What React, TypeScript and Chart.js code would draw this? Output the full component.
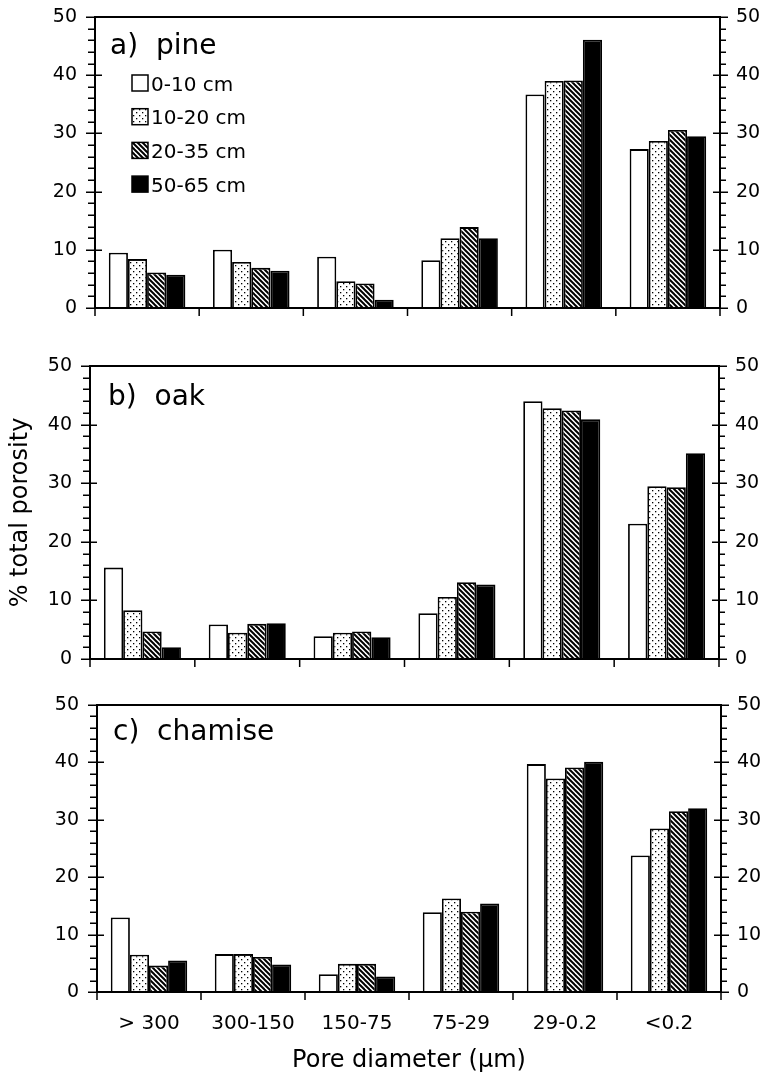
import React, { useEffect, useRef } from 'react';
import { Chart, registerables } from 'chart.js';

Chart.register(...registerables);

const FONT = "'DejaVu Sans', sans-serif";

// ---- data ----
const categories = ['> 300', '300-150', '150-75', '75-29', '29-0.2', '<0.2'];
const depthLabels = ['0-10 cm', '10-20 cm', '20-35 cm', '50-65 cm'];

const pine0_10 = [9.5, 10.0, 8.8, 8.2, 36.7, 27.3];
const pine10_20 = [8.4, 7.9, 4.6, 12.0, 39.0, 28.7];
const pine20_35 = [6.1, 6.9, 4.2, 13.9, 39.1, 30.6];
const pine50_65 = [5.7, 6.4, 1.4, 12.0, 46.1, 29.5];

const oak0_10 = [15.6, 5.9, 3.9, 7.8, 44.0, 23.1];
const oak10_20 = [8.3, 4.5, 4.5, 10.6, 42.8, 29.5];
const oak20_35 = [4.7, 6.0, 4.7, 13.1, 42.4, 29.3];
const oak50_65 = [2.0, 6.1, 3.7, 12.7, 40.9, 35.1];

const chamise0_10 = [13.0, 6.6, 3.1, 13.9, 39.7, 23.8];
const chamise10_20 = [6.5, 6.6, 4.9, 16.3, 37.2, 28.5];
const chamise20_35 = [4.6, 6.1, 4.9, 14.0, 39.1, 31.5];
const chamise50_65 = [5.5, 4.8, 2.7, 15.4, 40.1, 32.0];

const yTickValues = [0, 10, 20, 30, 40, 50];

const panelTitles = ['a)  pine', 'b)  oak', 'c)  chamise'];
const panelSeries = [
  [pine0_10, pine10_20, pine20_35, pine50_65],
  [oak0_10, oak10_20, oak20_35, oak50_65],
  [chamise0_10, chamise10_20, chamise20_35, chamise50_65],
];

// ---- layout (positions only) ----
const W = 767;
const layouts = [
  { top: 0, height: 330, chartTop: 17, chartBottom: 308, left: 95, right: 720, labelDx: 15, labelDy: 37, legend: true, xLabels: false, yTitle: false },
  { top: 330, height: 345, chartTop: 366, chartBottom: 659, left: 90, right: 719, labelDx: 18, labelDy: 39, legend: false, xLabels: false, yTitle: true },
  { top: 670, height: 408, chartTop: 705, chartBottom: 992, left: 97, right: 721, labelDx: 16, labelDy: 35, legend: false, xLabels: true, yTitle: false },
];

function makeFills(): (string | CanvasPattern)[] {
  const tmp = document.createElement('canvas').getContext('2d') as CanvasRenderingContext2D;

  const dots = document.createElement('canvas');
  dots.width = 6; dots.height = 6;
  const d = dots.getContext('2d') as CanvasRenderingContext2D;
  d.fillStyle = '#fff'; d.fillRect(0, 0, 6, 6);
  d.fillStyle = '#000';
  d.fillRect(1, 1, 1.3, 1.3);
  d.fillRect(4, 4, 1.3, 1.3);

  const s = 5;
  const hatch = document.createElement('canvas');
  hatch.width = s; hatch.height = s;
  const h = hatch.getContext('2d') as CanvasRenderingContext2D;
  h.fillStyle = '#fff'; h.fillRect(0, 0, s, s);
  h.strokeStyle = '#000'; h.lineWidth = 2;
  for (let k = -1; k <= 1; k++) {
    h.beginPath();
    h.moveTo(k * s - 1, -1);
    h.lineTo(k * s + s + 1, s + 1);
    h.stroke();
  }

  return [
    '#ffffff',
    tmp.createPattern(dots, 'repeat') as CanvasPattern,
    tmp.createPattern(hatch, 'repeat') as CanvasPattern,
    '#000000',
  ];
}

function makeDecor(title: string, lay: any) {
  return {
    id: 'panelDecor',
    afterDraw(chart: any) {
      const { ctx, chartArea } = chart;
      const { left, right, top, bottom } = chartArea;
      const y = chart.scales.y;
      const x = chart.scales.x;
      ctx.save();
      ctx.strokeStyle = '#000';
      // ticks on y axes, major every 10, minor every 2
      ctx.lineWidth = 1.5;
      ctx.beginPath();
      for (let v = y.min; v <= y.max; v += 2) {
        const py = Math.round(y.getPixelForValue(v)) + 0.25;
        const major = v % 10 === 0;
        if (major) {
          ctx.moveTo(left - 9, py); ctx.lineTo(left + 7, py);
          ctx.moveTo(right - 7, py); ctx.lineTo(right + 8, py);
        } else {
          ctx.moveTo(left - 7, py); ctx.lineTo(left, py);
          ctx.moveTo(right, py); ctx.lineTo(right + 6, py);
        }
      }
      // ticks on x axis at category boundaries
      for (let i = 0; i <= categories.length; i++) {
        const px = x.getPixelForValue(i - 0.5);
        ctx.moveTo(px, bottom); ctx.lineTo(px, bottom + 8);
      }
      ctx.stroke();
      // frame
      ctx.lineWidth = 2;
      ctx.strokeRect(left, top, right - left, bottom - top);

      // panel label
      ctx.fillStyle = '#000';
      ctx.font = `28px ${FONT}`;
      ctx.textBaseline = 'alphabetic';
      ctx.textAlign = 'left';
      ctx.fillText(title, left + lay.labelDx, top + lay.labelDy);

      // legend
      if (lay.legend) {
        chart.data.datasets.forEach((ds: any, i: number) => {
          const cy = top + 66 + i * 33.7;
          const sx = left + 37;
          ctx.fillStyle = ds.backgroundColor;
          ctx.fillRect(sx, cy - 8, 16, 16);
          ctx.lineWidth = 1.5;
          ctx.strokeRect(sx, cy - 8, 16, 16);
          ctx.fillStyle = '#000';
          ctx.font = `20px ${FONT}`;
          ctx.fillText(ds.label, sx + 19, cy + 7.5);
        });
      }
      ctx.restore();
    },
  };
}

export default function App() {
  const refs = useRef<(HTMLCanvasElement | null)[]>([]);

  useEffect(() => {
    const fills = makeFills();
    const charts: Chart[] = [];
    layouts.forEach((lay, pi) => {
      const canvas = refs.current[pi];
      if (!canvas) return;
      const tickFont = { family: FONT, size: 19 };
      const chart = new Chart(canvas, {
        type: 'bar',
        data: {
          labels: categories,
          datasets: depthLabels.map((label, i) => ({
            label,
            data: panelSeries[pi][i],
            backgroundColor: fills[i] as any,
            borderColor: '#000',
            borderWidth: 1.8,
            yAxisID: 'y',
            categoryPercentage: 0.735,
            barPercentage: 1,
          })),
        },
        options: {
          responsive: false,
          animation: false,
          events: [],
          layout: { padding: { top: lay.chartTop - lay.top, bottom: 0, left: 0, right: 0 } },
          plugins: { legend: { display: false }, tooltip: { enabled: false } },
          scales: {
            x: {
              type: 'category',
              display: true,
              grid: { display: false, drawTicks: true, tickLength: 20 },
              border: { display: false },
              ticks: { display: lay.xLabels, font: { family: FONT, size: 20 }, color: '#000', padding: 0, maxRotation: 0, autoSkip: false },
              title: { display: lay.xLabels, text: 'Pore diameter (µm)', font: { family: FONT, size: 24 }, color: '#000', padding: { top: 0, bottom: 3 } },
              afterFit: (s: any) => { s.height = lay.top + lay.height - lay.chartBottom; },
            },
            y: {
              type: 'linear',
              position: 'left',
              min: 0,
              max: 50,
              afterBuildTicks: (s: any) => { s.ticks = yTickValues.map((v) => ({ value: v })); },
              grid: { display: false, drawTicks: true, tickLength: 18 },
              border: { display: false },
              ticks: { font: tickFont, color: '#000', padding: 0 },
              title: { display: lay.yTitle, text: '% total porosity', font: { family: FONT, size: 24 }, color: '#000', padding: { top: 6, bottom: 0 } },
              afterFit: (s: any) => { s.width = lay.left; },
            },
            y2: {
              type: 'linear',
              position: 'right',
              min: 0,
              max: 50,
              afterBuildTicks: (s: any) => { s.ticks = yTickValues.map((v) => ({ value: v })); },
              grid: { display: false, drawTicks: true, tickLength: 16 },
              border: { display: false },
              ticks: { font: tickFont, color: '#000', padding: 0 },
              afterFit: (s: any) => { s.width = W - lay.right; },
            },
          },
        },
        plugins: [makeDecor(panelTitles[pi], lay)],
      } as any);
      charts.push(chart);
    });
    return () => { charts.forEach((c) => c.destroy()); };
  }, []);

  return (
    <div style={{ position: 'absolute', left: 0, top: 0, width: W, height: 1078, background: '#fff' }}>
      {layouts.map((lay, i) => (
        <canvas
          key={i}
          ref={(el) => { refs.current[i] = el; }}
          width={W}
          height={lay.height}
          style={{ position: 'absolute', left: 0, top: lay.top, display: 'block' }}
        />
      ))}
    </div>
  );
}
